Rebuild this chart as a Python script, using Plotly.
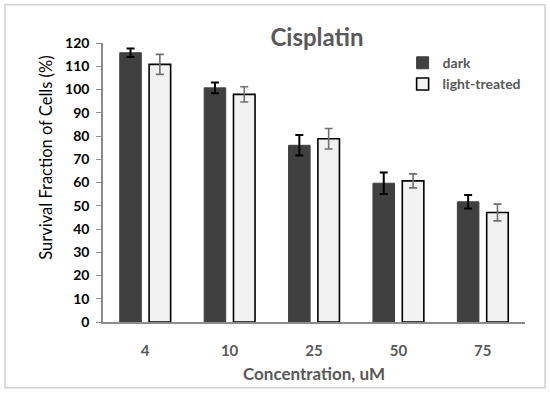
import plotly.graph_objects as go

categories = ["4", "10", "25", "50", "75"]
dark_values = [115.8, 100.7, 76.0, 59.7, 51.7]
dark_errors = [1.8, 2.3, 4.4, 4.6, 2.9]
light_values = [110.8, 97.9, 78.8, 60.7, 47.1]
light_errors = [4.3, 3.3, 4.4, 3.0, 3.6]
y_ticks = [0, 10, 20, 30, 40, 50, 60, 70, 80, 90, 100, 110, 120]

FONT = "Lato"

fig = go.Figure()
fig.add_trace(go.Bar(
    name="dark", x=categories, y=dark_values,
    marker=dict(color="#404040", line=dict(color="#404040", width=1)),
    error_y=dict(type="data", array=dark_errors, color="#000000", thickness=2, width=4),
))
fig.add_trace(go.Bar(
    name="light-treated", x=categories, y=light_values,
    marker=dict(color="#f2f2f2", line=dict(color="#000000", width=1.6)),
    error_y=dict(type="data", array=light_errors, color="#707070", thickness=1.6, width=4),
))

fig.update_layout(
    width=550, height=394,
    margin=dict(l=103, r=25, t=43, b=72),
    paper_bgcolor="white", plot_bgcolor="white",
    barmode="group", bargap=0.305, bargroupgap=0.265,
    font=dict(family=FONT, color="#000000"),
    title=dict(text="<b>Cisplatin</b>", x=317/550, xanchor="center", y=1-38/394, yanchor="middle",
               font=dict(family=FONT, size=24, color="#595959")),
    legend=dict(x=0.71, y=0.985, xanchor="left", yanchor="top",
                font=dict(family=FONT, size=14, color="#595959", weight="bold"),
                bgcolor="rgba(0,0,0,0)", tracegroupgap=0, itemwidth=30),
    showlegend=True,
    xaxis=dict(
        showline=True, linecolor="#8c8c8c", linewidth=1.5, ticks="",
        tickfont=dict(family=FONT, size=15, color="#595959", weight="bold"),
        ticklabelstandoff=14,
        title=dict(text="<b>Concentration, uM</b>", font=dict(family=FONT, size=17, color="#595959"), standoff=10),
    ),
    yaxis=dict(
        range=[0, 120], tickvals=y_ticks, showgrid=False, zeroline=False,
        showline=True, linecolor="#8c8c8c", linewidth=1.5,
        ticks="outside", ticklen=5, tickcolor="#8c8c8c", tickwidth=1,
        tickfont=dict(family=FONT, size=14, color="#000000", weight="bold"),
        ticklabelstandoff=4,
    ),
    shapes=[dict(type="rect", xref="paper", yref="paper",
                 x0=-98/422, x1=1+20/422, y0=-(388-322.3)/279, y1=1+(43.3-5)/279,
                 line=dict(color="#d0d0d0", width=1.5), fillcolor="rgba(0,0,0,0)", layer="below")],
    annotations=[dict(text="Survival Fraction of Cells (%)", xref="paper", yref="paper",
                      x=-57/422, y=(322.3-158)/279, textangle=-90, showarrow=False,
                      xanchor="center", yanchor="middle",
                      font=dict(family=FONT, size=16.5, color="#000000"))],
)

fig.write_html("out.html", config={"displayModeBar": False},
               post_script="document.body.style.margin='0px';document.body.style.overflow='hidden';")
